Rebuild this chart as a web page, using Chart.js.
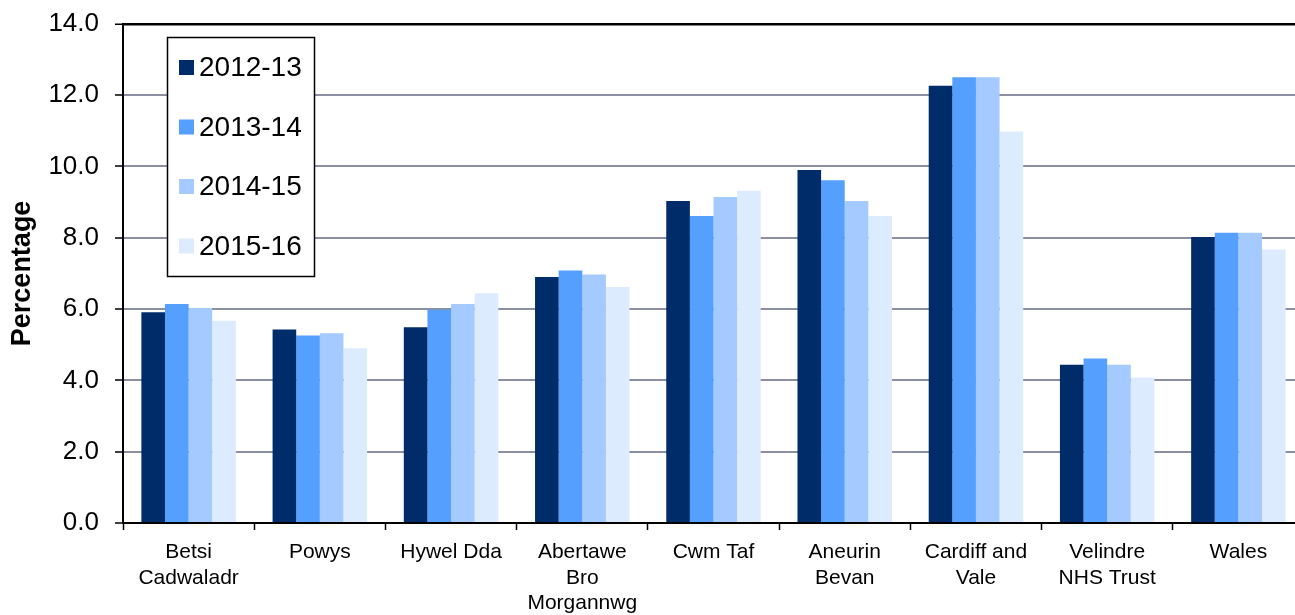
<!DOCTYPE html>
<html>
<head>
<meta charset="utf-8">
<script src="https://cdn.jsdelivr.net/npm/chart.js@4.4.1/dist/chart.umd.min.js"></script>
<style>
html,body{margin:0;padding:0;background:#fff;overflow:hidden;}
#wrap{width:1304px;height:615px;position:relative;}
</style>
</head>
<body>
<div id="wrap"><canvas id="c"></canvas></div>
<script>
const categories = [
  ["Betsi","Cadwaladr"],
  "Powys",
  "Hywel Dda",
  ["Abertawe","Bro","Morgannwg"],
  "Cwm Taf",
  ["Aneurin","Bevan"],
  ["Cardiff and","Vale"],
  ["Velindre","NHS Trust"],
  "Wales"
];
const seriesNames = ["2012-13","2013-14","2014-15","2015-16"];
const v2012_13 = [5.91, 5.43, 5.49, 6.90, 9.03, 9.90, 12.26, 4.44, 8.02];
const v2013_14 = [6.14, 5.26, 5.98, 7.08, 8.61, 9.61, 12.50, 4.61, 8.14];
const v2014_15 = [6.03, 5.32, 6.14, 6.97, 9.14, 9.03, 12.50, 4.44, 8.14];
const v2015_16 = [5.67, 4.90, 6.44, 6.62, 9.32, 8.61, 10.98, 4.08, 7.67];
const yTicks = [0, 2, 4, 6, 8, 10, 12, 14];
const colors = ["#002D6A", "#559FFF", "#A4CAFF", "#DDEBFF"];

Chart.defaults.font.family = "'Liberation Sans', Arial, sans-serif";
Chart.defaults.color = "#000";

const legendBox = {
  id: "legendBox",
  afterDraw(chart) {
    const ctx = chart.ctx;
    ctx.save();
    ctx.fillStyle = "#fff";
    ctx.fillRect(167.5, 37.5, 147, 239);
    ctx.strokeStyle = "#000";
    ctx.lineWidth = 1.5;
    ctx.strokeRect(167.5, 37.5, 147, 239);
    ctx.font = "28px 'Liberation Sans', Arial, sans-serif";
    ctx.textBaseline = "middle";
    ctx.textAlign = "left";
    chart.data.datasets.forEach((ds, i) => {
      const cy = 67.5 + i * 59.5;
      ctx.fillStyle = ds.backgroundColor;
      ctx.fillRect(179, cy - 7.5, 15, 15);
      ctx.fillStyle = "#000";
      ctx.fillText(ds.label, 199, cy + 1);
    });
    ctx.restore();
  }
};

const datasets = [v2012_13, v2013_14, v2014_15, v2015_16].map((d, i) => ({
  label: seriesNames[i],
  data: d,
  backgroundColor: colors[i],
  borderWidth: 0,
  categoryPercentage: 0.72,
  barPercentage: 1.0
}));

new Chart(document.getElementById("c"), {
  type: "bar",
  data: { labels: categories, datasets },
  options: {
    responsive: true,
    maintainAspectRatio: false,
    animation: false,
    layout: { padding: { top: 23, right: 0, left: 0, bottom: 0 } },
    plugins: { legend: { display: false }, tooltip: { enabled: false } },
    scales: {
      x: {
        grid: { offset: true, drawOnChartArea: false, tickLength: 7, tickColor: "#000", tickWidth: 1.5 },
        border: { color: "#000", width: 2 },
        ticks: { font: { size: 21, lineHeight: 1.2 }, padding: 10, maxRotation: 0, autoSkip: false },
        afterFit(s) { s.height = 92; }
      },
      y: {
        min: 0, max: 14,
        afterBuildTicks(s) { s.ticks = yTicks.map(v => ({ value: v })); },
        grid: {
          color: ctx => (ctx.tick && ctx.tick.value === 14) ? "#000" : "#8B8FA3",
          lineWidth: ctx => (ctx.tick && ctx.tick.value === 14) ? 2.5 : 2,
          tickLength: 8, tickColor: "#000", tickWidth: 1.5
        },
        border: { color: "#000", width: 2 },
        ticks: { font: { size: 26, lineHeight: 0.6 }, padding: 16, callback: v => Number(v).toFixed(1) },
        title: { display: true, text: "Percentage", font: { size: 27, weight: "bold" }, padding: { top: 6, bottom: 0 } },
        afterFit(s) { s.width = 123; }
      }
    }
  },
  plugins: [legendBox]
});
</script>
</body>
</html>
